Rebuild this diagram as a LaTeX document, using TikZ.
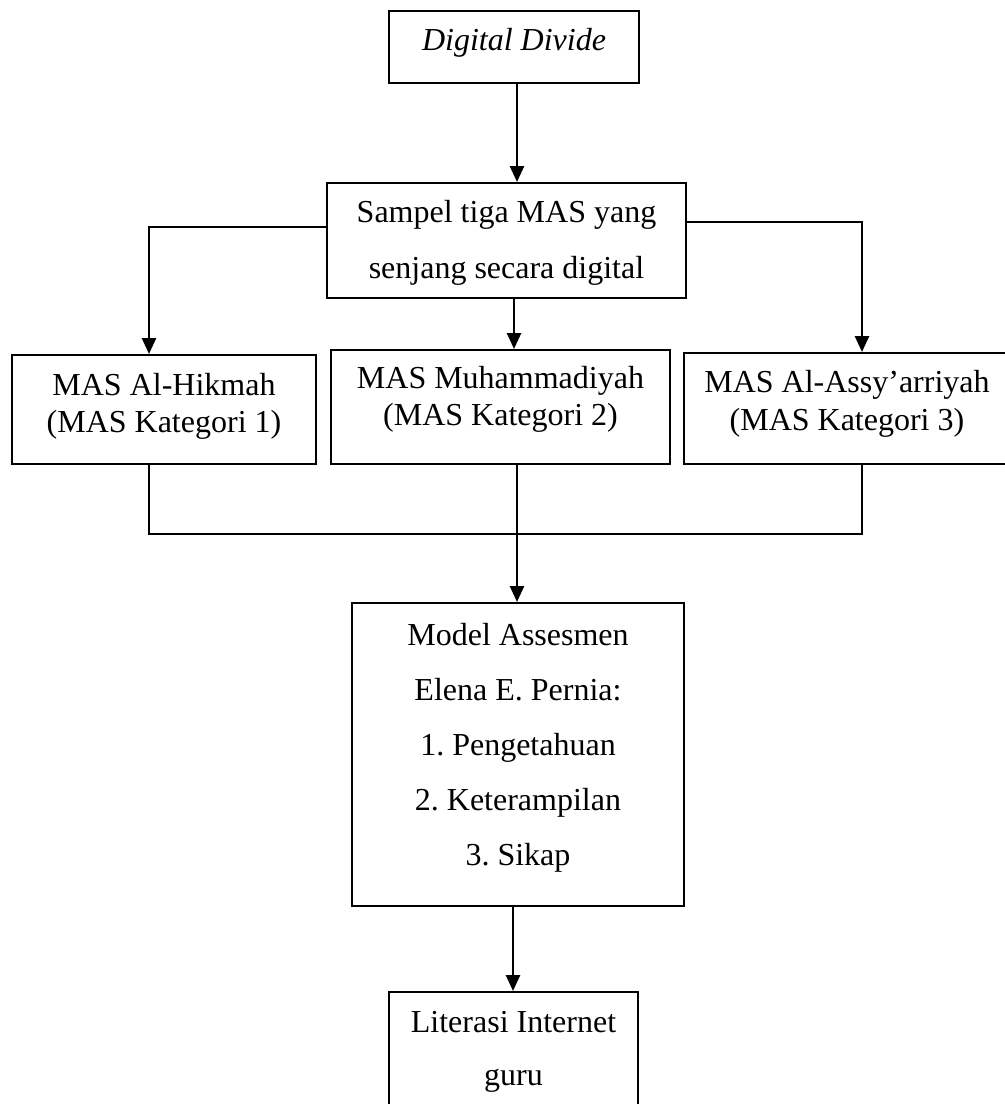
\documentclass[tikz,border=0pt]{standalone}
\usepackage{fontspec}
\setmainfont{Liberation Serif}
\usetikzlibrary{arrows.meta}
\newcommand\stk[1]{\begin{tabular}[b]{@{}c@{}}#1\end{tabular}}
\frenchspacing
\begin{document}
\begin{tikzpicture}[x=0.5pt,y=-0.5pt,
  box/.style={draw, line width=1pt, inner sep=0pt, rectangle},
  arr/.style={line width=1.3pt, -{Triangle[width=7pt,length=8pt]}},
  joinline/.style={line width=0.9pt},
]
\useasboundingbox (0,0) rectangle (1005,1104);

\node[box, minimum width=125pt, text height=19.5pt, text depth=16.5pt,
  font=\fontsize{16}{20}\selectfont] (dd) at (514,47) {\textit{Digital Divide}};

\node[box, minimum width=179.5pt, text height=47.5pt, text depth=10pt,
  font=\fontsize{16}{28}\selectfont] (sampel) at (506.5,240.5)
  {\stk{Sampel tiga MAS yang\\senjang secara digital}};

\node[box, minimum width=152pt, text height=38.5pt, text depth=16pt,
  font=\fontsize{16}{18.5}\selectfont] (hik) at (164,409.5)
  {\stk{MAS Al-Hikmah\\(MAS Kategori 1)}};

\node[box, minimum width=169.5pt, text height=37.5pt, text depth=19.5pt,
  font=\fontsize{16}{18.5}\selectfont] (muh) at (500.5,407)
  {\stk{MAS Muhammadiyah\\(MAS Kategori 2)}};

\node[box, minimum width=163pt, text height=38.5pt, text depth=17pt,
  font=\fontsize{16}{19}\selectfont] (assy) at (847,408.5)
  {\stk{MAS Al-Assy’arriyah\\(MAS Kategori 3)}};

\node[box, minimum width=166pt, text height=131pt, text depth=20.5pt,
  font=\fontsize{16}{27.5}\selectfont] (model) at (518,754.5)
  {\stk{Model Assesmen\\Elena E. Pernia:\\1. Pengetahuan\\2. Keterampilan\\3. Sikap}};

\node[box, minimum width=124.5pt, text height=46.5pt, text depth=15pt,
  font=\fontsize{16}{26.5}\selectfont] (lit) at (513.5,1053.5)
  {\stk{Literasi Internet\\guru}};

\coordinate (merge) at (517,534);

\draw[arr] ([xshift=1.5pt]dd.south) -- ([xshift=1.5pt]dd.south |- sampel.north);
\draw[arr] ([yshift=6.75pt]sampel.west) -| ([xshift=-7.5pt]hik.north);
\draw[arr] ([xshift=3.75pt]sampel.south) -- ([xshift=3.75pt]sampel.south |- muh.north);
\draw[arr] ([yshift=9.25pt]sampel.east) -| ([xshift=7.5pt]assy.north);
\draw[joinline] ([xshift=-7.5pt]hik.south) |- (merge) -| ([xshift=7.5pt]assy.south);
\draw[arr] (muh.south -| merge) -- (merge |- model.north);
\draw[arr] ([xshift=-2.5pt]model.south) -- ([xshift=-2.5pt]model.south |- lit.north);
\end{tikzpicture}
\end{document}
